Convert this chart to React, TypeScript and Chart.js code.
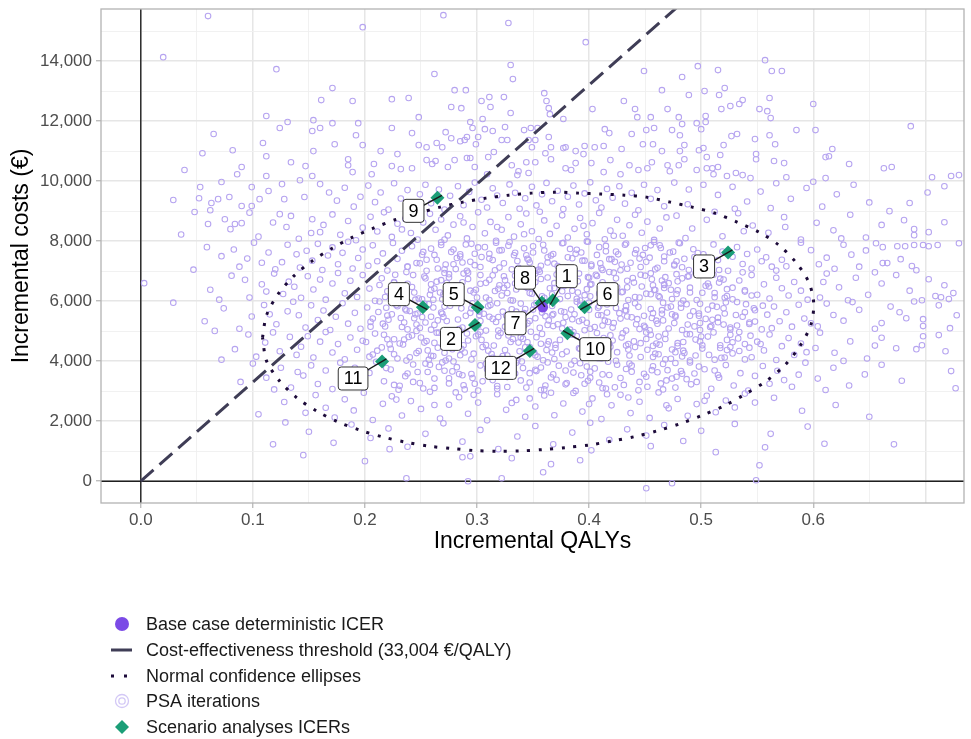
import React, { useEffect, useRef } from "react";
import { Chart, registerables } from "chart.js";

Chart.register(...registerables);

const FONT = "'Liberation Sans', Arial, Helvetica, sans-serif";

// ---------- axes ----------
const qalyRange = [-0.0355, 0.7345];
const costRange = [-725, 15735];
const qalyGridValues = [0, 0.05, 0.1, 0.15, 0.2, 0.25, 0.3, 0.35, 0.4, 0.45, 0.5, 0.55, 0.6, 0.65, 0.7];
const qalyTickLabels = [0, 0.1, 0.2, 0.3, 0.4, 0.5, 0.6];
const costGridValues = [0, 1000, 2000, 3000, 4000, 5000, 6000, 7000, 8000, 9000, 10000, 11000, 12000, 13000, 14000, 15000];
const costTickLabels = [0, 2000, 4000, 6000, 8000, 10000, 12000, 14000];

// ---------- threshold ----------
const thresholdEurPerQaly = 33004;
const thresholdQaly = [0, 0.6];

// ---------- base case ----------
const baseCaseQaly = [0.3587];
const baseCaseCost = [5800];

// ---------- scenario analyses ----------
const scenarioLabels = ["1", "2", "3", "4", "5", "6", "7", "8", "9", "10", "11", "12"];
const scenarioQaly = [0.3676, 0.2982, 0.524, 0.2517, 0.3006, 0.396, 0.3575, 0.358, 0.2647, 0.3806, 0.2153, 0.3471];
const scenarioCost = [6033, 5210, 7623, 5800, 5800, 5800, 5930, 5950, 9443, 4933, 3990, 4343];

// ---------- confidence ellipse ----------
const ellipseQaly = [0.1086, 0.1122, 0.1225, 0.1364, 0.1527, 0.1705, 0.1886, 0.2076, 0.2277, 0.2476, 0.2671, 0.2876, 0.308, 0.3284, 0.3489, 0.3702, 0.3907, 0.4111, 0.4316, 0.4511, 0.4724, 0.492, 0.5124, 0.532, 0.5516, 0.5693, 0.5844, 0.596, 0.6004, 0.5978, 0.588, 0.5747, 0.5578, 0.5391, 0.5211, 0.5012, 0.4816, 0.4618, 0.4411, 0.4209, 0.4004, 0.3797, 0.3593, 0.3388, 0.3187, 0.298, 0.2775, 0.2573, 0.2366, 0.2158, 0.1957, 0.1758, 0.1572, 0.1394, 0.124, 0.1122, 0.1086];
const ellipseCost = [4790, 5533, 6233, 6833, 7333, 7757, 8123, 8433, 8723, 8933, 9133, 9300, 9433, 9533, 9600, 9633, 9600, 9567, 9533, 9467, 9300, 9133, 8933, 8633, 8300, 7867, 7300, 6633, 5933, 5200, 4500, 3867, 3333, 2900, 2523, 2200, 1923, 1690, 1490, 1343, 1210, 1123, 1057, 1010, 1000, 1023, 1090, 1167, 1300, 1477, 1700, 1977, 2333, 2777, 3333, 4010, 4790];

// ---------- PSA iterations [QALY, cost] ----------
const psaAbove10000 = [
  [.060,15500],[.020,14130],[.270,15530],[.198,15130],[.328,15270],[.397,14630],[.557,14030],[.121,13730],
  [.262,13570],[.330,13870],[.332,13400],[.449,13670],[.171,13100],[.280,13030],[.290,13030],[.497,13830],[.515,13700],[.563,13670],[.572,13670],[.483,13470],[.465,13030],[.503,13000],[.521,13100],
  [.161,12700],[.112,12170],[.154,12030],[.189,12670],[.224,12730],[.239,12770],[.304,12670],[.311,12800],[.324,12800],[.360,12930],[.362,12670],[.431,12670],[.277,12470],[.286,12430],[.312,12470],[.364,12430],[.403,12400],[.441,12400],[.330,12270],[.365,12230],[.443,12130],[.455,12130],[.248,12130],[.305,12070],[.377,12070],[.489,12870],[.516,12870],[.561,12770],[.600,12570],[.470,12400],[.518,12400],[.526,12500],[.534,12570],[.537,12700],[.552,12400],[.559,12330],[.562,12100],[.480,12130],[.504,12170],
  [.131,11970],[.124,11770],[.153,11670],[.160,11770],[.065,11570],[.109,11270],[.082,11030],[.154,11000],[.483,11900],[.496,11930],[.504,11970],[.687,11830],[.474,11700],[.500,11730],[.585,11700],[.602,11700],[.481,11530],[.527,11500],[.532,11570],[.548,11400],[.561,11530],[.485,11200],[.520,11200],[.566,11230],[.465,11000],[.481,11000],[.502,11100],[.498,11030],[.617,11070],
  [.224,11770],[.242,11600],[.171,11930],[.194,11930],[.192,11530],[.198,11200],[.173,11230],[.248,11200],[.255,11130],[.264,11270],[.269,11130],[.277,11430],[.272,11630],[.285,11330],[.289,11370],[.291,11470],[.296,11770],[.294,11970],[.301,11470],[.299,11230],[.307,11730],[.314,11670],[.322,11370],[.327,11370],[.325,11800],[.342,11700],[.348,11770],[.354,11770],[.352,11370],[.346,11370],[.349,11130],[.364,11470],[.366,11130],[.379,11130],[.388,11000],[.396,11170],[.405,11130],[.413,11170],[.414,11730],[.418,11600],[.438,11570],[.429,11070],[.448,11230],[.458,11770],[.457,11230],[.451,11700],
  [.214,11000],[.229,10900],[.185,10730],[.185,10530],[.208,10570],[.224,10500],[.242,10430],[.189,10300],[.206,10230],[.232,10400],[.255,10700],[.263,10670],[.260,10570],[.274,10470],[.280,10700],[.291,10770],[.294,10770],[.298,10470],[.310,10800],[.315,10970],[.309,10230],[.331,10530],[.337,10330],[.344,10630],[.352,10630],[.336,10200],[.346,10270],[.361,10930],[.366,10730],[.377,11100],[.379,10430],[.384,10370],[.388,10600],[.395,10900],[.402,10600],[.419,10700],[.413,10300],[.428,10230],[.436,10530],[.444,10370],[.452,10430],[.456,10630],
  [.055,10930],[.112,10830],[.134,10630],[.090,10470],[.147,10500],[.039,10370],[.086,10230],[.112,10170],[.153,10170],[.142,10030],
  [.549,10900],[.549,10730],[.517,10870],[.505,10800],[.614,10830],[.611,10800],[.485,10730],[.470,10530],[.480,10530],[.565,10670],[.574,10600],[.632,10570],[.663,10430],[.670,10470],[.496,10370],[.505,10430],[.510,10430],[.515,10470],[.472,10330],[.511,10230],[.523,10170],[.531,10270],[.537,10200],[.544,10100],[.576,10130],[.611,10100],[.706,10130],[.723,10170],[.730,10200]
];

const psa8000to10000 = [
  [.072,9970],[.053,9800],[.099,9800],[.126,9900],[.029,9370],[.052,9430],[.069,9400],[.079,9470],[.063,9270],[.106,9400],[.128,9400],[.114,9670],[.146,9470],[.062,9030],[.090,9170],[.099,9170],
  [.160,9900],[.168,9620],[.175,9350],[.182,9780],[.190,9150],[.196,9480],[.203,9850],[.209,9300],[.214,9620],[.221,9050],[.226,9930],[.232,9420],[.238,9700],[.243,9180],[.249,9560],[.254,9880],[.259,9260],[.266,9720],[.271,9050],[.276,9510],[.283,9830],[.288,9200],[.293,9640],[.298,9950],[.304,9380],[.309,9120],[.314,9760],[.318,9520],[.323,9270],[.329,9890],[.334,9610],[.338,9080],[.343,9430],[.349,9810],[.353,9190],[.358,9560],[.362,9940],[.367,9330],[.372,9680],[.377,9070],[.381,9480],[.386,9850],[.391,9220],[.396,9590],[.401,9960],[.406,9360],[.411,9120],[.416,9740],[.421,9450],[.427,9830],[.432,9250],[.438,9610],[.444,9030],[.449,9880],[.455,9410],[.461,9700],[.467,9160],
  [.476,9950],[.489,9720],[.502,9880],[.515,9540],[.528,9810],[.541,9320],[.553,9650],[.567,9930],[.580,9410],[.594,9770],[.608,9150],[.621,9560],[.636,9880],[.650,9290],[.668,9000],[.686,9270],[.702,9620],[.717,9830],[.530,9080],[.488,9230],[.562,9100],[.600,9980],
  [.048,8970],[.124,8900],[.134,8840],[.075,8730],[.060,8570],[.084,8570],[.090,8600],[.080,8400],[.130,8470],[.153,8730],[.152,8270],[.160,8300],[.105,8150],[.118,8620],[.141,8080],[.097,8950],[.036,8220],
  [.163,8540],[.171,8890],[.178,8210],[.185,8670],[.192,8030],[.198,8450],[.205,8810],[.211,8320],[.217,8960],[.224,8140],[.229,8580],[.236,8740],[.241,8270],[.247,8050],[.252,8620],[.258,8910],[.263,8380],[.268,8720],[.274,8190],[.279,8550],[.285,8830],[.291,8090],[.296,8470],[.301,8960],[.307,8260],[.312,8640],[.317,8010],[.322,8380],[.328,8800],[.333,8150],[.339,8560],[.344,8920],[.349,8330],[.355,8070],[.360,8690],[.365,8240],[.371,8510],[.376,8860],[.381,8120],[.387,8410],[.392,8770],[.398,8230],[.403,8600],[.409,8940],[.414,8060],[.419,8350],[.425,8710],[.430,8180],[.436,8530],[.441,8880],[.447,8280],[.452,8650],[.458,8040],[.463,8420],[.469,8790],
  [.288,8620],[.342,8230],[.395,8510],[.356,8980],[.318,8470],[.271,8050],[.422,8180],[.233,8390],
  [.681,8700],[.717,8630],[.703,8300],[.690,8400],[.690,8200],[.478,8850],[.492,8420],[.505,8710],[.519,8160],[.533,8930],[.546,8520],[.560,8280],[.574,8800],[.589,8050],[.603,8610],[.618,8360],[.633,8880],[.647,8120],[.661,8540],[.486,8100],[.512,8980],[.538,8330],[.575,8470],[.625,8090]
];

const psa6000to8000 = [
  [.101,7950],[.114,7620],[.126,7300],[.088,7150],[.072,7500],[.059,7800],[.131,7880],[.095,7420],[.047,7050],[.120,7060],[.139,7560],[.108,7280],[.083,7720],
  [.142,7120],[.148,7680],[.153,7350],[.158,7910],[.162,7040],[.167,7520],[.171,7790],[.176,7230],[.180,7610],[.185,7980],[.189,7090],[.194,7440],[.198,7720],[.203,7180],[.207,7860],[.211,7330],[.216,7590],[.220,7020],[.225,7940],[.229,7410],[.233,7680],[.238,7150],[.242,7830],[.246,7270],[.251,7550],[.255,7010],[.259,7750],[.264,7380],[.268,7960],[.272,7220],[.277,7640],[.281,7070],[.285,7490],[.290,7890],[.294,7310],[.298,7580],[.303,7140],[.307,7800],[.311,7420],[.316,7030],[.320,7690],[.324,7260],[.329,7970],[.333,7530],[.337,7110],[.342,7760],[.346,7380],[.350,7620],[.355,7050],[.359,7880],[.363,7290],[.368,7570],[.372,7170],[.376,7930],[.381,7460],[.385,7080],[.389,7710],[.394,7350],[.398,7990],[.402,7220],[.407,7540],[.411,7100],[.415,7840],[.420,7400],[.424,7650],[.428,7030],[.433,7920],[.437,7280],[.441,7590],[.446,7140],[.450,7770],[.454,7450],[.459,7060],[.463,7860],[.467,7330],[.472,7620],[.476,7190],[.480,7950],[.485,7410],[.489,7040],[.493,7730],[.498,7280],[.502,7560],[.506,7120],[.511,7890],[.515,7370],[.519,7650],[.524,7010],[.528,7480],[.532,7800],[.537,7240],[.541,7570],[.545,7090],[.550,7720],[.554,7330],[.558,7460],[.563,7150],[.567,7020],[.572,7380],[.576,7160],
  [.656,7930],[.662,7800],[.675,7830],[.682,7830],[.690,7870],[.698,7870],[.703,7830],[.711,7870],[.730,7930],[.678,7400],[.666,7270],[.662,7270],[.688,7170],[.692,7030],[.598,7700],[.612,7450],[.627,7880],[.641,7150],[.619,7080],[.589,7950],[.634,7550],[.647,7690],[.605,7230],
  [.003,6600],[.062,6380],[.081,6850],[.097,6120],[.108,6560],[.119,6920],[.127,6240],[.070,6050],[.112,6320],[.093,6710],[.132,6650],
  [.137,6480],[.143,6110],[.149,6830],[.154,6390],[.160,6720],[.165,6050],[.171,6590],[.176,6940],[.182,6260],[.187,6680],[.193,6140],[.198,6870],[.204,6420],[.209,6010],[.215,6760],[.220,6330],[.226,6610],[.231,6180],[.237,6970],[.242,6470],[.248,6090],[.253,6820],[.259,6370],[.264,6650],[.270,6230],[.275,6900],[.281,6520],[.286,6060],[.292,6740],[.297,6290],[.303,6580],[.308,6120],[.314,6860],[.319,6410],[.325,6700],[.330,6030],[.336,6550],[.341,6950],[.347,6270],[.352,6630],[.358,6160],[.363,6790],[.369,6440],[.374,6070],[.380,6710],[.385,6350],[.391,6920],[.396,6200],[.402,6570],[.407,6840],[.413,6110],[.418,6490],[.424,6760],[.429,6300],[.435,6040],[.440,6620],[.446,6880],[.451,6250],[.457,6530],[.462,6170],[.468,6800],[.473,6380],[.479,6660],[.484,6020],[.490,6450],[.495,6930],[.501,6280],[.506,6590],[.512,6130],[.517,6750],[.523,6400],[.528,6060],[.534,6690],[.539,6320],[.545,6870],[.550,6210],[.556,6560],[.561,6090],[.567,6780],[.572,6430],[.578,6190],[.583,6640],[.589,6350],[.595,6050],
  [.213,6540],[.227,6880],[.244,6290],[.261,6050],[.273,6610],[.288,6920],[.299,6380],[.311,6710],[.322,6190],[.334,6850],[.345,6440],[.356,6980],[.367,6230],[.378,6510],[.389,6080],[.400,6780],[.411,6350],[.422,6950],[.434,6460],[.445,6120],[.456,6730],[.467,6560],[.478,6240],[.489,6830],[.231,6420],[.284,6270],[.327,6530],[.371,6890],[.416,6010],[.459,6370],
  [.703,6730],[.717,6530],[.709,6170],[.714,6130],[.721,6070],[.725,6270],[.612,6920],[.623,6460],[.638,6780],[.649,6210],[.661,6590],[.674,6870],[.686,6350],[.697,6030],[.606,6120],[.631,6030],[.655,6960],[.609,6640]
];

const psa4000to6000 = [
  [.029,5950],[.057,5330],[.074,5760],[.088,5080],[.099,5490],[.110,5870],[.121,5230],[.131,5660],[.066,5010],[.115,5560],[.136,5980],
  [.141,5530],[.147,5120],[.152,5860],[.158,5370],[.163,5690],[.169,5040],[.174,5480],[.180,5930],[.185,5250],[.191,5610],[.196,5080],[.202,5790],[.207,5420],[.213,5990],[.218,5160],[.224,5560],[.229,5830],[.235,5290],[.240,5670],[.246,5010],[.251,5470],[.257,5900],[.262,5210],[.268,5620],[.273,5340],[.279,5960],[.284,5070],[.290,5510],[.295,5760],[.301,5190],[.306,5580],[.312,5870],[.317,5310],[.323,5650],[.328,5030],[.334,5440],[.339,5920],[.345,5260],[.350,5720],[.356,5110],[.361,5500],[.367,5840],[.372,5230],[.378,5640],[.383,5050],[.389,5980],[.394,5380],[.400,5710],[.405,5140],[.411,5530],[.416,5890],[.422,5270],[.427,5600],[.433,5020],[.438,5460],[.444,5810],[.449,5180],[.455,5740],[.460,5350],[.466,5950],[.471,5090],[.477,5520],[.482,5780],[.488,5220],[.493,5660],[.499,5040],[.504,5410],[.510,5850],[.515,5300],[.521,5590],[.526,5120],[.532,5970],[.537,5480],[.543,5240],[.548,5700],[.554,5060],[.559,5550],[.565,5820],[.570,5330],[.576,5630],[.581,5150],[.587,5880],[.592,5420],[.598,5260],
  [.205,5310],[.219,5780],[.233,5140],[.247,5590],[.259,5050],[.271,5820],[.283,5390],[.296,5930],[.308,5020],[.319,5470],[.331,5730],[.342,5180],[.353,5940],[.364,5360],[.376,5090],[.387,5560],[.398,5280],[.409,5830],[.421,5120],[.432,5690],[.443,5400],[.454,5030],[.465,5580],[.476,5270],[.487,5900],[.498,5510],[.509,5170],[.520,5760],[.244,5430],[.302,5650],[.358,5620],[.414,5350],[.470,5790],
  [.728,5530],[.698,5400],[.698,5170],[.722,5100],[.683,5430],[.612,5920],[.627,5350],[.641,5710],[.655,5080],[.669,5820],[.604,5160],[.618,5540],[.635,5970],[.661,5270],[.677,5630],[.712,5860],[.690,5990],
  [.084,4400],[.096,4890],[.103,4150],[.111,4620],[.124,4330],[.133,4810],[.072,4050],[.118,4960],[.139,4210],
  [.143,4480],[.149,4830],[.154,4120],[.160,4650],[.165,4970],[.171,4290],[.176,4570],[.182,4060],[.187,4790],[.193,4380],[.198,4680],[.204,4150],[.209,4920],[.215,4460],[.220,4730],[.226,4230],[.231,4590],[.237,4020],[.242,4860],[.248,4340],[.253,4620],[.259,4180],[.264,4950],[.270,4500],[.275,4090],[.281,4770],[.286,4410],[.292,4690],[.297,4250],[.303,4980],[.308,4540],[.314,4110],[.319,4830],[.325,4370],[.330,4640],[.336,4030],[.341,4750],[.347,4470],[.352,4200],[.358,4910],[.363,4560],[.369,4070],[.374,4710],[.380,4320],[.385,4880],[.391,4430],[.396,4160],[.402,4620],[.407,4940],[.413,4270],[.418,4580],[.424,4010],[.429,4790],[.435,4390],[.440,4660],[.446,4140],[.451,4960],[.457,4510],[.462,4230],[.468,4740],[.473,4080],[.479,4600],[.484,4350],[.490,4900],[.495,4190],[.501,4530],[.506,4820],[.512,4050],[.517,4440],[.523,4710],[.528,4260],[.534,4970],[.539,4570],[.545,4130],[.550,4650],[.556,4360],[.561,4890],[.567,4040],[.572,4500],[.578,4770],[.583,4210],[.589,4590],[.594,4300],
  [.211,4350],[.235,4720],[.257,4050],[.279,4560],[.301,4890],[.323,4170],[.345,4630],[.367,4290],[.389,4840],[.411,4090],[.433,4520],[.455,4880],[.477,4300],[.499,4660],[.521,4120],[.543,4450],[.271,4280],[.339,4800],[.405,4380],[.463,4550],
  [.712,4870],[.698,4830],[.697,4530],[.674,4430],[.692,4400],[.718,4330],[.606,4950],[.619,4280],[.633,4660],[.648,4090],[.661,4780],[.602,4440],[.627,4010],[.655,4520]
];

const psaBelow4000 = [
  [.100,3920],[.112,3450],[.125,3780],[.134,3120],[.089,3310],[.119,3060],[.140,3640],
  [.145,3520],[.152,3860],[.158,3240],[.165,3690],[.171,3070],[.178,3950],[.184,3410],[.191,3780],[.197,3150],[.204,3610],[.210,3980],[.217,3330],[.223,3720],[.230,3050],[.236,3500],[.243,3890],[.249,3270],[.256,3640],[.262,3110],[.269,3960],[.275,3430],[.282,3800],[.288,3200],[.295,3570],[.301,3020],[.308,3910],[.314,3370],[.321,3740],[.327,3140],[.334,3590],[.340,3990],[.347,3290],[.353,3670],[.360,3060],[.366,3460],[.373,3850],[.379,3230],[.386,3620],[.392,3930],[.399,3350],[.405,3760],[.412,3100],[.418,3540],[.425,3880],[.431,3210],[.438,3650],[.444,3030],[.451,3480],[.457,3830],[.464,3260],[.470,3700],[.477,3120],[.483,3580],[.490,3960],[.496,3310],[.503,3730],[.509,3080],[.516,3450],[.522,3870],[.529,3190],[.535,3600],[.542,3020],[.548,3510],[.555,3840],[.561,3250],[.568,3680],[.574,3370],[.581,3150],[.587,3550],
  [.226,3210],[.278,3660],[.318,3080],[.357,3790],[.396,3250],[.436,3920],[.474,3420],[.512,3690],
  [.723,3670],[.727,3100],[.593,3950],[.604,3420],[.618,3780],[.632,3190],[.646,3560],[.661,3880],[.611,3040],[.679,3350],
  [.128,2640],[.147,2280],[.156,2870],[.165,2450],[.173,2120],[.182,2730],[.190,2360],[.199,2950],[.207,2040],[.216,2580],[.224,2830],[.233,2190],[.241,2670],[.250,2410],[.258,2980],[.267,2090],[.275,2550],[.284,2800],[.292,2250],[.301,2620],[.309,2030],[.318,2900],[.326,2380],[.335,2710],[.343,2150],[.352,2490],[.360,2860],[.369,2200],[.377,2590],[.386,2940],[.394,2320],[.403,2760],[.411,2070],[.420,2530],[.428,2880],[.437,2270],[.445,2650],[.454,2110],[.462,2960],[.471,2430],[.479,2740],[.488,2180],[.496,2570],[.505,2850],[.513,2300],[.522,2690],[.530,2460],[.539,2920],[.548,2620],[.565,2780],[.590,2350],[.620,2540],[.105,2230],[.650,2150],
  [.150,1650],[.172,1280],[.188,1890],[.205,1440],[.221,1760],[.238,1150],[.254,1580],[.270,1930],[.287,1320],[.303,1710],[.319,1070],[.336,1490],[.352,1840],[.368,1230],[.385,1620],[.401,1950],[.418,1380],[.434,1730],[.451,1520],[.467,1870],[.484,1340],[.500,1680],[.530,1910],[.562,1580],[.595,1820],[.129,1960],[.610,1250],
  [.200,670],[.145,870],[.287,800],[.294,830],[.331,770],[.359,300],[.366,570],[.392,700],[.552,530],[.237,100],[.292,0],[.322,100],[.451,-233],[.474,-67],[.549,33],[.513,970],[.672,1230],[.557,1130],[.455,1170],[.402,1030],[.118,1230],[.222,1070]
];

const psaDenseCore = [
  [.231,3180],[.262,3420],[.289,3060],[.305,3330],[.327,3470],[.344,3120],[.371,3380],[.388,3010],[.409,3290],[.428,3440],[.452,3150],[.469,3360],[.491,3230],[.243,3310],[.298,3250],[.361,3190],[.415,3090],[.478,3480],
  [.219,3770],[.238,3590],[.254,3920],[.271,3680],[.287,3530],[.303,3860],[.319,3620],[.335,3950],[.352,3710],[.368,3560],[.384,3890],[.401,3650],[.417,3980],[.433,3740],[.449,3580],[.466,3910],[.482,3670],[.498,3820],[.515,3540],[.279,3990],[.341,3770],[.393,3530],[.456,3700],
  [.207,4220],[.223,4410],[.240,4130],[.256,4360],[.272,4020],[.289,4290],[.305,4470],[.321,4080],[.338,4330],[.354,4150],[.370,4440],[.387,4010],[.403,4260],[.419,4480],[.436,4190],[.452,4380],[.468,4060],[.485,4270],[.501,4420],[.518,4110],[.534,4340],[.265,4450],[.313,4240],[.362,4370],[.410,4120],[.459,4250],[.526,4470],
  [.201,4640],[.217,4880],[.234,4560],[.250,4790],[.266,4950],[.283,4610],[.299,4830],[.315,4520],[.332,4740],[.348,4980],[.364,4660],[.381,4870],[.397,4540],[.413,4770],[.430,4930],[.446,4600],[.462,4820],[.479,4510],[.495,4720],[.511,4960],[.528,4630],[.544,4850],[.226,4730],[.291,4920],[.357,4580],[.421,4690],[.487,4900],[.553,4570],
  [.205,5150],[.221,5380],[.238,5060],[.254,5290],[.270,5470],[.287,5120],[.303,5340],[.319,5020],[.336,5250],[.352,5430],[.368,5170],[.385,5400],[.401,5080],[.417,5310],[.434,5490],[.450,5130],[.466,5360],[.483,5040],[.499,5270],[.515,5450],[.532,5190],[.548,5320],[.563,5100],[.246,5220],[.311,5480],[.377,5280],[.442,5230],[.508,5140],
  [.212,5640],[.228,5870],[.245,5560],[.261,5790],[.277,5950],[.294,5610],[.310,5830],[.326,5520],[.343,5740],[.359,5980],[.375,5660],[.392,5880],[.408,5540],[.424,5770],[.441,5930],[.457,5600],[.473,5820],[.490,5510],[.506,5720],[.522,5960],[.539,5630],[.555,5850],[.236,5730],[.302,5680],[.368,5570],[.433,5690],[.499,5910],
  [.218,6140],[.234,6370],[.251,6060],[.267,6290],[.283,6470],[.300,6120],[.316,6340],[.332,6020],[.349,6250],[.365,6430],[.381,6170],[.398,6400],[.414,6080],[.430,6310],[.447,6490],[.463,6130],[.479,6360],[.496,6040],[.512,6270],[.528,6450],[.545,6190],[.258,6210],[.324,6440],[.390,6290],[.455,6230],[.521,6110],
  [.226,6640],[.243,6870],[.259,6560],[.275,6790],[.292,6950],[.308,6610],[.324,6830],[.341,6520],[.357,6740],[.373,6980],[.390,6660],[.406,6880],[.422,6540],[.439,6770],[.455,6930],[.471,6600],[.488,6820],[.504,6510],[.520,6720],[.537,6960],[.268,6700],[.334,6590],[.399,6800],[.465,6690],[.511,6880],
  [.238,7150],[.255,7380],[.271,7060],[.287,7290],[.304,7470],[.320,7120],[.336,7340],[.353,7020],[.369,7250],[.385,7430],[.402,7170],[.418,7400],[.434,7080],[.451,7310],[.467,7490],[.483,7130],[.500,7360],[.516,7040],[.279,7230],[.345,7410],[.410,7260],[.476,7220],
  [.252,7640],[.268,7870],[.285,7560],[.301,7790],[.317,7950],[.334,7610],[.350,7830],[.366,7520],[.383,7740],[.399,7980],[.415,7660],[.432,7880],[.448,7540],[.464,7770],[.481,7930],[.497,7600],[.322,7700],[.388,7580],[.455,7860],
  [.228,2720],[.262,2540],[.297,2880],[.331,2610],[.366,2950],[.400,2570],[.435,2790],[.469,2530],[.503,2680],[.281,2960],[.347,2760],[.416,2900]
];

const psaInnerCore = [
  [.247,3640],[.266,3810],[.284,3570],[.309,3730],[.326,3890],[.347,3600],[.363,3960],[.379,3690],[.398,3820],[.412,3560],[.438,3850],[.461,3630],[.477,3940],[.494,3590],[.258,3880],[.332,3520],
  [.229,4090],[.246,4270],[.261,4170],[.278,4400],[.295,4060],[.310,4350],[.327,4190],[.343,4460],[.359,4030],[.376,4230],[.392,4410],[.408,4100],[.425,4300],[.441,4470],[.457,4140],[.474,4390],[.490,4020],[.507,4210],[.523,4370],[.539,4060],[.285,4200],[.351,4290],[.417,4380],[.483,4160],
  [.222,4560],[.239,4810],[.255,4670],[.272,4890],[.288,4530],[.304,4710],[.321,4940],[.337,4620],[.353,4800],[.370,4550],[.386,4970],[.402,4690],[.419,4860],[.435,4570],[.451,4740],[.468,4910],[.484,4640],[.500,4820],[.517,4530],[.533,4760],[.262,4610],[.328,4860],[.394,4650],[.460,4590],[.526,4880],
  [.216,5250],[.232,5440],[.249,5110],[.265,5360],[.281,5010],[.298,5260],[.314,5410],[.330,5090],[.347,5340],[.363,5210],[.379,5470],[.396,5030],[.412,5190],[.428,5420],[.445,5070],[.461,5250],[.477,5480],[.494,5160],[.510,5380],[.526,5060],[.543,5290],[.259,5480],[.325,5150],[.391,5330],[.456,5440],[.520,5220],
  [.220,5520],[.237,5690],[.253,5910],[.269,5580],[.286,5760],[.302,5540],[.318,5930],[.335,5650],[.351,5870],[.367,5530],[.384,5720],[.400,5950],[.416,5620],[.433,5840],[.449,5510],[.465,5700],[.482,5920],[.498,5590],[.514,5810],[.531,5540],[.547,5760],[.276,5850],[.342,5600],[.408,5780],[.474,5560],[.540,5900],
  [.229,6230],[.245,6050],[.262,6420],[.278,6180],[.294,6350],[.311,6040],[.327,6270],[.343,6480],[.360,6110],[.376,6330],[.392,6020],[.409,6250],[.425,6460],[.441,6140],[.458,6380],[.474,6070],[.490,6290],[.507,6490],[.523,6170],[.539,6360],[.269,6060],[.335,6390],[.401,6160],[.467,6440],
  [.238,6580],[.254,6760],[.271,6940],[.287,6630],[.303,6870],[.320,6530],[.336,6710],[.352,6920],[.369,6600],[.385,6810],[.401,6550],[.418,6970],[.434,6680],[.450,6850],[.467,6540],[.483,6760],[.499,6960],[.516,6620],[.280,6520],[.346,6800],[.412,6630],[.478,6900],
  [.249,7260],[.265,7090],[.282,7440],[.298,7200],[.314,7370],[.331,7060],[.347,7290],[.363,7460],[.380,7130],[.396,7350],[.412,7040],[.429,7220],[.445,7420],[.461,7110],[.478,7330],[.494,7470],[.291,7010],[.357,7180],[.423,7310],
  [.262,7540],[.279,7720],[.295,7910],[.311,7580],[.328,7850],[.344,7530],[.360,7690],[.377,7940],[.393,7620],[.409,7800],[.426,7560],[.442,7710],[.458,7970],[.475,7650],
  [.252,3090],[.275,3260],[.296,3440],[.318,3170],[.339,3360],[.357,3040],[.380,3270],[.401,3450],[.423,3130],[.445,3310],[.466,3060],[.487,3400]
];

const legendLabels = [
  "Base case deterministic ICER",
  "Cost-effectiveness threshold (33,004 €/QALY)",
  "Normal confidence ellipses",
  "PSA iterations",
  "Scenario analyses ICERs",
];

// ---------- styles ----------
const COLORS = {
  psa: "#b6a4f0",
  psaLegend: "#d3c8f6",
  base: "#7b4ae6",
  scenario: "#1b9e77",
  threshold: "#3f3d56",
  ellipse: "#1d0b3a",
  axisLine: "#1f1f1f",
  border: "#b3b3b3",
  tickText: "#4d4d4d",
};
// label nudges in pixels (where ggrepel placed the number boxes)
const scenarioLabelNudges = [[14, -24], [-24, 14], [-24, 14], [-24, -13], [-24, -13], [23, -13], [-26, 20], [-17, -25], [-24, 13], [28, 16], [-29, 17], [-29, 17]];
const legendRowsY = [624, 650, 676, 701, 727];

const psaAll = [...psaAbove10000, ...psa8000to10000, ...psa6000to8000, ...psa4000to6000, ...psaBelow4000, ...psaDenseCore, ...psaInnerCore];

const decorPlugin = {
  id: "ceDecor",
  beforeDatasetsDraw(chart: any) {
    const { ctx, chartArea: a, scales } = chart;
    const x0 = scales.x.getPixelForValue(0);
    const y0 = scales.y.getPixelForValue(0);
    ctx.save();
    ctx.beginPath();
    ctx.rect(a.left, a.top, a.right - a.left, a.bottom - a.top);
    ctx.clip();
    ctx.strokeStyle = COLORS.axisLine;
    ctx.lineWidth = 1.4;
    ctx.beginPath();
    ctx.moveTo(x0, a.top);
    ctx.lineTo(x0, a.bottom);
    ctx.moveTo(a.left, y0);
    ctx.lineTo(a.right, y0);
    ctx.stroke();
    ctx.restore();
  },
  afterDatasetsDraw(chart: any) {
    const { ctx, chartArea: a } = chart;
    ctx.save();
    ctx.strokeStyle = COLORS.border;
    ctx.lineWidth = 1.3;
    ctx.strokeRect(a.left, a.top, a.right - a.left, a.bottom - a.top);
    ctx.restore();

    const idx = chart.data.datasets.findIndex((d: any) => d.label === "Scenario analyses ICERs");
    const meta = chart.getDatasetMeta(idx);
    ctx.save();
    ctx.font = `18px ${FONT}`;
    meta.data.forEach((pt: any, i: number) => {
      const [dx, dy] = scenarioLabelNudges[i];
      const cx = pt.x + dx;
      const cy = pt.y + dy;
      const len = Math.hypot(dx, dy);
      const ex = pt.x - (dx / len) * 5;
      const ey = pt.y - (dy / len) * 5;
      ctx.strokeStyle = "#1a1a1a";
      ctx.lineWidth = 1.4;
      ctx.beginPath();
      ctx.moveTo(cx, cy);
      ctx.lineTo(ex, ey);
      ctx.stroke();
      const text = scenarioLabels[i];
      const w = ctx.measureText(text).width + 11;
      const h = 23;
      const bx = cx - w / 2;
      const by = cy - h / 2;
      const r = 3;
      ctx.beginPath();
      ctx.moveTo(bx + r, by);
      ctx.lineTo(bx + w - r, by);
      ctx.quadraticCurveTo(bx + w, by, bx + w, by + r);
      ctx.lineTo(bx + w, by + h - r);
      ctx.quadraticCurveTo(bx + w, by + h, bx + w - r, by + h);
      ctx.lineTo(bx + r, by + h);
      ctx.quadraticCurveTo(bx, by + h, bx, by + h - r);
      ctx.lineTo(bx, by + r);
      ctx.quadraticCurveTo(bx, by, bx + r, by);
      ctx.closePath();
      ctx.fillStyle = "#ffffff";
      ctx.fill();
      ctx.strokeStyle = "#333333";
      ctx.lineWidth = 1;
      ctx.stroke();
      ctx.fillStyle = "#000000";
      ctx.textAlign = "center";
      ctx.textBaseline = "middle";
      ctx.fillText(text, cx, cy + 1);
    });
    ctx.restore();
  },
  afterDraw(chart: any) {
    const { ctx } = chart;
    const mx = 122;
    const tx = 146;
    ctx.save();
    ctx.font = `18px ${FONT}`;
    ctx.textAlign = "left";
    ctx.textBaseline = "middle";
    legendLabels.forEach((label, i) => {
      const y = legendRowsY[i];
      if (i === 0) {
        ctx.fillStyle = COLORS.base;
        ctx.beginPath();
        ctx.arc(mx, y, 7, 0, Math.PI * 2);
        ctx.fill();
      } else if (i === 1) {
        ctx.strokeStyle = COLORS.threshold;
        ctx.lineWidth = 3;
        ctx.beginPath();
        ctx.moveTo(111, y);
        ctx.lineTo(132, y);
        ctx.stroke();
      } else if (i === 2) {
        ctx.fillStyle = COLORS.ellipse;
        ctx.fillRect(111, y - 1.5, 3, 3);
        ctx.fillRect(124, y - 1.5, 3, 3);
      } else if (i === 3) {
        ctx.strokeStyle = COLORS.psaLegend;
        ctx.lineWidth = 1.3;
        ctx.beginPath();
        ctx.arc(mx, y, 6.5, 0, Math.PI * 2);
        ctx.stroke();
        ctx.beginPath();
        ctx.arc(mx, y, 3.2, 0, Math.PI * 2);
        ctx.stroke();
      } else {
        ctx.fillStyle = COLORS.scenario;
        ctx.beginPath();
        ctx.moveTo(mx, y - 7);
        ctx.lineTo(mx + 7, y);
        ctx.lineTo(mx, y + 7);
        ctx.lineTo(mx - 7, y);
        ctx.closePath();
        ctx.fill();
      }
      ctx.fillStyle = "#1a1a1a";
      ctx.fillText(label, tx, y + 1);
    });
    ctx.restore();
  },
};

export default function App() {
  const canvasRef = useRef<HTMLCanvasElement | null>(null);

  useEffect(() => {
    const canvas = canvasRef.current;
    if (!canvas) return;
    Chart.defaults.font.family = FONT;

    const isMajorQ = (v: number) => qalyTickLabels.includes(v) || v === 0.7;
    const isMajorC = (v: number) => costTickLabels.includes(v);

    const chart = new Chart(canvas, {
      type: "scatter",
      data: {
        datasets: [
          {
            label: "Base case deterministic ICER",
            data: baseCaseQaly.map((q, i) => ({ x: q, y: baseCaseCost[i] })),
            pointStyle: "circle",
            pointRadius: 5.3,
            pointBorderWidth: 0,
            backgroundColor: COLORS.base,
            borderColor: COLORS.base,
            order: 0,
          },
          {
            label: "Scenario analyses ICERs",
            data: scenarioQaly.map((q, i) => ({ x: q, y: scenarioCost[i] })),
            pointStyle: "rectRot",
            pointRadius: 7,
            pointBorderWidth: 0,
            backgroundColor: COLORS.scenario,
            borderColor: COLORS.scenario,
            order: 1,
          },
          {
            type: "line",
            label: "Cost-effectiveness threshold (33,004 €/QALY)",
            data: thresholdQaly.map((q) => ({ x: q, y: q * thresholdEurPerQaly })),
            borderColor: COLORS.threshold,
            borderWidth: 3,
            borderDash: [17, 8],
            borderCapStyle: "butt",
            pointRadius: 0,
            fill: false,
            order: 2,
          },
          {
            type: "line",
            label: "Normal confidence ellipses",
            data: ellipseQaly.map((q, i) => ({ x: q, y: ellipseCost[i] })),
            borderColor: COLORS.ellipse,
            borderWidth: 3,
            borderDash: [3, 8.6],
            borderCapStyle: "butt",
            pointRadius: 0,
            tension: 0.3,
            fill: false,
            order: 3,
          },
          {
            label: "PSA iterations",
            data: psaAll.map(([q, c]) => ({ x: q, y: c })),
            pointStyle: "circle",
            pointRadius: 2.8,
            pointBorderWidth: 1.05,
            backgroundColor: "rgba(0,0,0,0)",
            borderColor: COLORS.psa,
            order: 4,
          },
        ] as any,
      },
      options: {
        animation: false,
        responsive: false,
        devicePixelRatio: 1,
        events: [],
        layout: { padding: { left: 0, right: 4, top: 9, bottom: 184 } },
        plugins: { legend: { display: false }, tooltip: { enabled: false } },
        scales: {
          x: {
            type: "linear",
            min: qalyRange[0],
            max: qalyRange[1],
            afterBuildTicks: (s: any) => {
              s.ticks = qalyGridValues.map((v) => ({ value: v }));
            },
            afterFit: (s: any) => {
              s.height = 52;
              s.paddingLeft = 0;
              s.paddingRight = 0;
            },
            border: { display: false },
            grid: {
              color: (c: any) => (isMajorQ(c.tick?.value) ? "#e6e6e6" : "#efefef"),
              lineWidth: (c: any) => (isMajorQ(c.tick?.value) ? 1.5 : 0.9),
              tickLength: 5,
              tickColor: (c: any) => (qalyTickLabels.includes(c.tick?.value) ? COLORS.border : "rgba(0,0,0,0)"),
              tickWidth: 1.2,
            },
            ticks: {
              autoSkip: false,
              maxRotation: 0,
              padding: 2,
              color: COLORS.tickText,
              font: { size: 17, family: FONT },
              callback: (v: any) => (qalyTickLabels.includes(Number(v)) ? Number(v).toFixed(1) : ""),
            },
            title: {
              display: true,
              text: "Incremental QALYs",
              color: "#000000",
              font: { size: 23, family: FONT },
              padding: { top: 0, bottom: 0 },
            },
          },
          y: {
            type: "linear",
            min: costRange[0],
            max: costRange[1],
            afterBuildTicks: (s: any) => {
              s.ticks = costGridValues.map((v) => ({ value: v }));
            },
            afterFit: (s: any) => {
              s.width = 101;
              s.paddingTop = 0;
              s.paddingBottom = 0;
            },
            border: { display: false },
            grid: {
              color: (c: any) => (isMajorC(c.tick?.value) ? "#e6e6e6" : "#efefef"),
              lineWidth: (c: any) => (isMajorC(c.tick?.value) ? 1.5 : 0.9),
              tickLength: 5,
              tickColor: (c: any) => (costTickLabels.includes(c.tick?.value) ? COLORS.border : "rgba(0,0,0,0)"),
              tickWidth: 1.2,
            },
            ticks: {
              autoSkip: false,
              padding: 4,
              color: COLORS.tickText,
              font: { size: 17, family: FONT },
              callback: (v: any) => (costTickLabels.includes(Number(v)) ? Number(v).toLocaleString("en-US") : ""),
            },
            title: {
              display: true,
              text: "Incremental costs (€)",
              color: "#000000",
              font: { size: 23, family: FONT },
              padding: { top: 8, bottom: 0 },
            },
          },
        },
      } as any,
      plugins: [decorPlugin],
    });

    return () => chart.destroy();
  }, []);

  return (
    <div style={{ position: "fixed", left: 0, top: 0, width: 971, height: 739, background: "#ffffff" }}>
      <canvas ref={canvasRef} width={971} height={739} style={{ display: "block" }} />
    </div>
  );
}
